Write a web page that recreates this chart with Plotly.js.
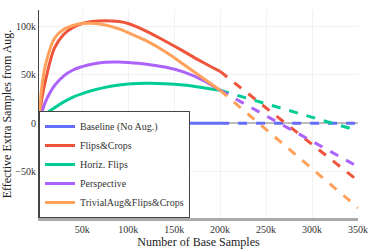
<!DOCTYPE html>
<html>
<head>
<meta charset="utf-8">
<script src="https://cdn.plot.ly/plotly-3.0.1.min.js"></script>
<style>html,body{margin:0;padding:0;background:#fff;}#chart{width:373px;height:249px;}</style>
</head>
<body>
<div id="chart"></div>
<script>
// Number of base samples (solid, measured part)
const xSolid = [3000, 6000, 10000, 20000, 30000, 40000, 50000, 60000, 75000, 90000, 100000, 120000, 140000, 160000, 180000, 200000];
// Extrapolated part (dashed)
const xDash = [200000, 350000];

const names = ["Baseline (No Aug.)", "Flips&Crops", "Horiz. Flips", "Perspective", "TrivialAug&Flips&Crops"];
const colors = ["#636efa", "#EF553B", "#00cc96", "#ab63fa", "#FFA15A"];

const baselineSolid = [0, 0, 0, 0, 0, 0, 0, 0, 0, 0, 0, 0, 0, 0, 0, 0];
const flipsCropsSolid = [0, 25000, 44000, 78000, 92000, 99000, 103000, 105000, 106000, 105000, 103000, 95000, 85000, 74500, 63500, 53500];
const horizFlipsSolid = [0, 3500, 9000, 16000, 22000, 27000, 30500, 33500, 37000, 39500, 40500, 41200, 40800, 39500, 37000, 34000];
const perspectiveSolid = [0, 11000, 22000, 39000, 49000, 55000, 58500, 61000, 63000, 63300, 62800, 61000, 58000, 53000, 45000, 34000];
const trivialSolid = [0, 37000, 60000, 88000, 97000, 101000, 103000, 103300, 101500, 97500, 93500, 85000, 74000, 61000, 47500, 34000];

const baselineDash = [0, 0];
const flipsCropsDash = [53500, -59500];
const horizFlipsDash = [34000, -7800];
const perspectiveDash = [34000, -45000];
const trivialDash = [34000, -87500];

const solids = [baselineSolid, flipsCropsSolid, horizFlipsSolid, perspectiveSolid, trivialSolid];
const dashes = [baselineDash, flipsCropsDash, horizFlipsDash, perspectiveDash, trivialDash];

const traces = [];
for (let i = 0; i < names.length; i++) {
  traces.push({
    x: xSolid, y: solids[i], type: "scatter", mode: "lines",
    name: names[i], legendgroup: names[i],
    line: {color: colors[i], width: 3, shape: "spline"}
  });
}
for (let i = 0; i < names.length; i++) {
  traces.push({
    x: xDash, y: dashes[i], type: "scatter", mode: "lines",
    name: names[i], legendgroup: names[i], showlegend: false,
    line: {color: colors[i], width: 3, dash: "dash"}
  });
}

const serif = "Liberation Serif";
const layout = {
  width: 373, height: 249,
  margin: {l: 39, r: 15, t: 10, b: 31, pad: 0},
  paper_bgcolor: "#fff", plot_bgcolor: "#fff",
  font: {family: serif, size: 10, color: "#444"},
  showlegend: true,
  legend: {
    x: 0, y: 0, xanchor: "left", yanchor: "bottom",
    bgcolor: "#fff", bordercolor: "#444", borderwidth: 1,
    font: {family: serif, size: 10, color: "#333"},
    tracegroupgap: 0
  },
  xaxis: {
    range: [3000, 350000],
    tickvals: [50000, 100000, 150000, 200000, 250000, 300000, 350000],
    ticktext: ["50k", "100k", "150k", "200k", "250k", "300k", "350k"],
    showgrid: true, gridcolor: "#f2f2f2", gridwidth: 1,
    zeroline: false,
    showline: true, linecolor: "#aaaaaa", linewidth: 3,
    ticks: "", tickfont: {family: serif, size: 10, color: "#333"},
    title: {text: "Number of Base Samples", font: {family: serif, size: 12, color: "#222"}, standoff: 4}
  },
  yaxis: {
    range: [-98000, 117000],
    tickvals: [-50000, 0, 50000, 100000],
    ticktext: ["\u221250k", "0", "50k", "100k"],
    showgrid: true, gridcolor: "#f2f2f2", gridwidth: 1,
    zeroline: true, zerolinecolor: "#bbbbbb", zerolinewidth: 2,
    showline: true, linecolor: "#444", linewidth: 1,
    ticks: "", tickfont: {family: serif, size: 10, color: "#333"},
    title: {text: "Effective Extra Samples from Aug.", font: {family: serif, size: 12, color: "#222"}, standoff: 4}
  }
};

Plotly.newPlot("chart", traces, layout, {displayModeBar: false, staticPlot: true});
</script>
</body>
</html>
